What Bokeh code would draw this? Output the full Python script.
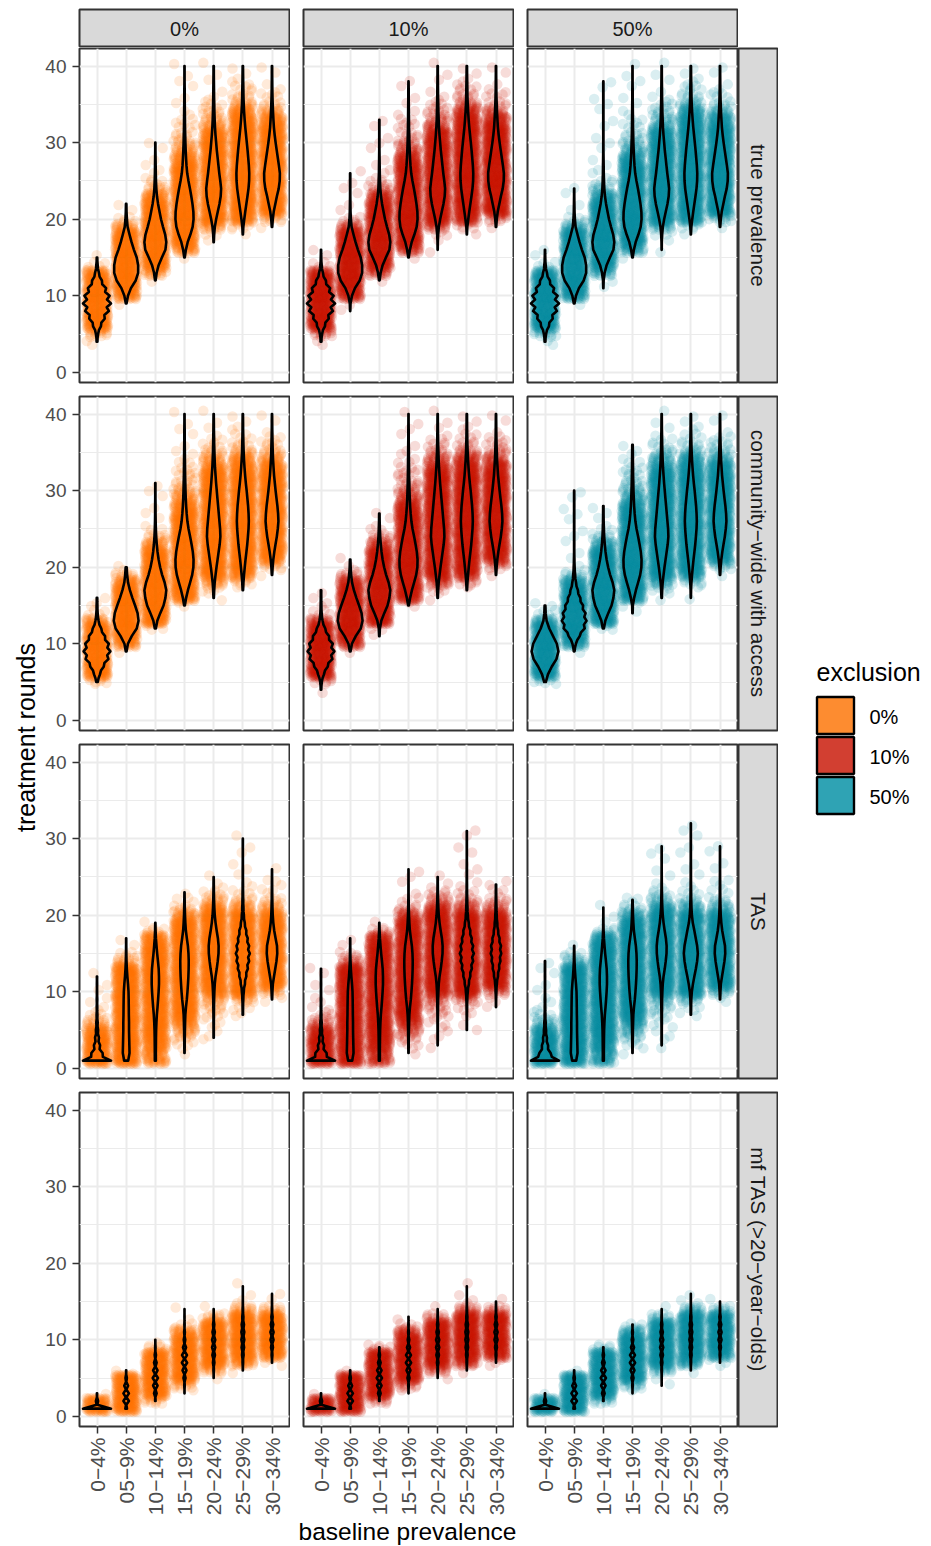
import math
from bokeh.embed import file_html
from bokeh.resources import INLINE
from bokeh.plotting import figure
from bokeh.layouts import row, column
from bokeh.models import Range1d, FixedTicker
from bokeh.core.properties import value

# ---------- chart content ----------
CATEGORIES = ["0−4%", "05−9%", "10−14%", "15−19%", "20−24%", "25−29%", "30−34%"]
EXCLUSIONS = ["0%", "10%", "50%"]
ROWS = ["true prevalence", "community−wide with access", "TAS", "mf TAS (>20−year−olds)"]
COLORS = ["#FF7300", "#CC1600", "#058CA0"]
KEY_COLORS = ["#FD8C30", "#D23F31", "#2FA3B4"]
Y_TICKS = [0, 10, 20, 30, 40]
Y_MINOR = [5, 15, 25, 35]

# Relative frequency of each whole number of rounds (estimated from violin outlines),
# per row and category: first round, then one value per round.
R1_START = [4, 9, 12, 15, 17, 18, 19]
R1_SHAPE = [
    [3, 8, 28, 55, 85, 100, 90, 65, 35, 14, 5, 2],
    [3, 15, 40, 80, 100, 100, 88, 65, 45, 28, 12, 6, 3, 2],
    [3, 12, 30, 60, 92, 100, 90, 70, 52, 38, 25, 15, 9, 6, 4, 3, 2, 1, 1],
    [3, 15, 35, 65, 90, 100, 98, 88, 75, 60, 44, 30, 22, 17, 13, 10, 8, 6, 5, 4, 3, 2, 2, 1, 1, 1],
    [2, 6, 14, 30, 50, 70, 85, 90, 80, 68, 58, 48, 38, 30, 22, 16, 12, 9, 7, 5, 4, 3, 2, 2],
    [2, 8, 22, 38, 55, 72, 88, 98, 100, 94, 84, 74, 62, 50, 38, 28, 20, 14, 10, 8, 6, 4, 3],
    [3, 10, 22, 42, 62, 85, 98, 100, 88, 74, 60, 46, 34, 24, 18, 13, 9, 6, 4, 3, 2, 2],
]
R2_START = [4, 9, 11, 14, 16, 16, 19]
R2_SHAPE = [
    [2, 6, 22, 50, 85, 100, 88, 60, 32, 12, 5, 3, 2, 2],
    [3, 14, 45, 85, 100, 92, 72, 50, 30, 15, 8, 4, 2],
    [2, 5, 18, 45, 75, 92, 100, 85, 62, 44, 30, 20, 13, 8, 5, 3, 2, 2, 1, 1, 1],
    [2, 4, 18, 38, 62, 85, 98, 100, 92, 78, 62, 45, 32, 24, 18, 14, 11, 9, 7, 6, 5, 4, 3, 2, 2, 1, 1],
    [3, 8, 15, 28, 42, 58, 74, 90, 100, 96, 86, 76, 66, 56, 46, 36, 28, 20, 15, 11, 8, 6, 4, 3, 2],
    [2, 4, 10, 20, 32, 45, 60, 74, 85, 95, 100, 96, 88, 76, 64, 50, 38, 28, 20, 14, 10, 7, 5, 4, 3],
    [3, 10, 20, 36, 55, 75, 90, 100, 95, 84, 70, 56, 44, 32, 24, 17, 12, 9, 6, 4, 3, 2],
]
R3_START = [1, 1, 1, 2, 3, 5, 8]
R3_SHAPE = [
    [100, 40, 22, 14, 8, 5, 3, 2, 2, 1, 1, 1, 1, 1],
    [60, 100, 95, 90, 85, 85, 80, 78, 75, 70, 55, 35, 20, 10, 6, 3, 2],
    [14, 14, 16, 18, 22, 30, 42, 60, 76, 90, 100, 100, 92, 72, 50, 32, 16, 7, 3, 2, 1],
    [3, 5, 7, 10, 14, 20, 35, 55, 70, 82, 92, 98, 100, 94, 80, 55, 32, 20, 12, 7, 4, 2, 2, 1, 1],
    [2, 3, 3, 4, 5, 7, 9, 14, 22, 38, 62, 82, 98, 100, 85, 60, 38, 22, 13, 8, 5, 3, 2, 1, 1, 1, 1],
    [2, 2, 3, 4, 7, 14, 30, 50, 72, 90, 100, 90, 70, 50, 28, 15, 9, 6, 4, 3, 2, 2, 1, 1, 1, 1, 1, 1],
    [2, 3, 8, 16, 38, 62, 85, 100, 95, 68, 42, 25, 14, 9, 6, 4, 3, 2, 1, 1, 1, 1],
]
R4_START = [1, 1, 2, 3, 4, 6, 7]
R4_SHAPE = [
    [100, 8, 1],
    [30, 100, 100, 70, 25, 4],
    [10, 50, 85, 100, 85, 50, 25, 8, 2],
    [3, 10, 40, 75, 100, 95, 60, 30, 15, 6, 3, 1],
    [2, 3, 15, 45, 80, 100, 100, 75, 40, 12, 3],
    [4, 20, 55, 85, 100, 100, 80, 40, 15, 5, 2, 1],
    [6, 25, 60, 95, 100, 80, 40, 12, 4, 1],
]
STARTS = [R1_START, R2_START, R3_START, R4_START]
SHAPES = [R1_SHAPE, R2_SHAPE, R3_SHAPE, R4_SHAPE]

# Widest half-width of each violin, in category widths.
PEAKS = [
    [0.48, 0.41, 0.375, 0.31, 0.255, 0.22, 0.27],
    [0.46, 0.425, 0.375, 0.31, 0.23, 0.205, 0.22],
    [0.48, 0.115, 0.125, 0.145, 0.17, 0.24, 0.18],
    [0.48, 0.095, 0.09, 0.09, 0.055, 0.05, 0.055],
]
# How many dots one unit of peak * shape stands for, per row.
DOTS_PER_UNIT = [4, 4, 12, 14]
DOT_CAP = 44

# Lowest and highest rounds per row / column / category.
ENDS = [
    [[(4, 15), (9, 22), (12, 30), (15, 40), (17, 40), (18, 40), (19, 40)],
     [(4, 16), (8, 26), (12, 33), (15, 38), (16, 40), (18, 40), (19, 40)],
     [(4, 16), (9, 24), (11, 38), (15, 40), (16, 40), (18, 40), (19, 40)]],
    [[(5, 16), (9, 20), (12, 31), (15, 40), (16, 40), (17, 40), (19, 40)],
     [(4, 17), (9, 21), (11, 27), (15, 40), (16, 40), (17, 40), (19, 40)],
     [(5, 15), (9, 30), (12, 28), (14, 36), (16, 40), (16, 40), (19, 40)]],
    [[(1, 12), (1, 17), (1, 19), (2, 23), (4, 25), (7, 30), (9, 26)],
     [(1, 13), (1, 17), (1, 19), (2, 26), (3, 25), (5, 31), (8, 24)],
     [(1, 14), (1, 16), (1, 21), (2, 22), (3, 29), (7, 32), (9, 29)]],
    [[(1, 3), (1, 6), (2, 10), (3, 14), (5, 14), (6, 17), (7, 16)],
     [(1, 3), (1, 6), (2, 9), (3, 13), (5, 14), (6, 17), (7, 15)],
     [(1, 3), (1, 6), (2, 9), (3, 12), (4, 14), (6, 16), (7, 15)]],
]
# Outline waist between whole rounds, where the picture shows a wavy violin.
WAISTS = {
    (0, 0, 0): 0.75, (0, 1, 0): 0.75, (0, 2, 0): 0.75,
    (1, 0, 0): 0.82, (1, 1, 0): 0.82, (1, 2, 1): 0.85,
    (2, 0, 0): 0.6, (2, 1, 0): 0.6, (2, 2, 0): 0.7,
    (2, 0, 5): 0.8, (2, 1, 5): 0.8, (2, 1, 6): 0.8,
}
ROW4_WAIST = [0.05, 0.1, 0.1, 0.1, 0.3, 0.5, 0.3]

# ---------- layout constants ----------
FONT = value("Liberation Sans")
Y_RANGE = (-1.33, 42.3)
FRAME_W, FRAME_H = 210, 334
LEFT = [41, 13, 13]
BOTTOM_ROW_GAP = 92


def shape_at(r, c, level):
    i = level - STARTS[r][c]
    s = SHAPES[r][c]
    return s[i] if 0 <= i < len(s) else 1


def frac(v):
    return v - math.floor(v)


def cloud(r, k, c):
    """Dots for one cloud. The number per round comes from the estimated frequencies
    (thin tails count for less, as the picture shows them sparser than the outline suggests);
    the individual dots cannot be read, so they are spread evenly over the jitter box."""
    xs, ys = [], []
    lo, hi = ENDS[r][k][c]
    for lev in range(lo, hi + 1):
        s = shape_at(r, c, lev)
        n = min(DOT_CAP, max(1, round(s * PEAKS[r][c] * DOTS_PER_UNIT[r] * min(1.8, s / 11))))
        for i in range(n):
            xs.append(c + 1 + 0.38 * (2 * frac((i + 1) * 0.754878 + 0.381966 * lev + 0.29 * k) - 1))
            ys.append(lev + 0.45 * (2 * frac((i + 1) * 0.569840 + 0.618034 * lev + 0.17 * c) - 1))
    return xs, ys


def outline(r, k, c):
    lo, hi = ENDS[r][k][c]
    waist = ROW4_WAIST[c] if r == 3 else WAISTS.get((r, k, c), 1)
    top = max(shape_at(r, c, lev) for lev in range(lo, hi + 1))
    ys, ws = [], []
    for lev in range(lo, hi + 1):
        w = PEAKS[r][c] * shape_at(r, c, lev) / top
        ys.append(lev)
        ws.append(w)
        if waist < 1 and lev < hi:
            nxt = PEAKS[r][c] * shape_at(r, c, lev + 1) / top
            ys.append(lev + 0.5)
            ws.append(waist * (w + nxt) / 2)
    xs = [c + 1 - w for w in ws] + [c + 1 + w for w in reversed(ws)]
    return xs, ys + ys[::-1]


def panel(r, k):
    bottom = r == 3
    left = k == 0
    gap = BOTTOM_ROW_GAP if bottom else 13
    p = figure(width=LEFT[k] + FRAME_W + 1, height=1 + FRAME_H + gap,
               x_range=Range1d(0.4, 7.6), y_range=Range1d(*Y_RANGE),
               toolbar_location=None, output_backend="svg",
               min_border_left=LEFT[k], min_border_right=1, min_border_top=1,
               min_border_bottom=gap)
    p.background_fill_color = "white"
    p.border_fill_color = None
    p.outline_line_color = "#333333"
    p.outline_line_width = 2
    for ax, show, ticks in ((p.xaxis[0], bottom, list(range(1, 8))), (p.yaxis[0], left, Y_TICKS)):
        ax.visible = show
        ax.ticker = FixedTicker(ticks=ticks)
        ax.axis_line_color = None
        ax.major_tick_in = 0
        ax.major_tick_out = 7
        ax.major_tick_line_color = "#333333"
        ax.major_tick_line_width = 1.5
        ax.minor_tick_line_color = None
        ax.major_label_text_font = "Liberation Sans"
        ax.major_label_text_font_size = "19px"
        ax.major_label_text_color = "#4D4D4D"
        ax.major_label_standoff = 6
    p.xaxis[0].major_label_overrides = {i + 1: s for i, s in enumerate(CATEGORIES)}
    p.xaxis[0].major_label_orientation = math.pi / 2
    p.xaxis[0].major_label_text_font_size = "21px"
    p.xaxis[0].major_label_standoff = 4
    p.xgrid[0].ticker = FixedTicker(ticks=list(range(1, 8)))
    p.ygrid[0].ticker = FixedTicker(ticks=Y_TICKS, minor_ticks=Y_MINOR)
    p.xgrid.grid_line_color = "#EBEBEB"
    p.xgrid.grid_line_width = 2
    p.ygrid.grid_line_color = "#EBEBEB"
    p.ygrid.grid_line_width = 2
    p.ygrid.minor_grid_line_color = "#EBEBEB"
    p.ygrid.minor_grid_line_width = 1.1

    xs, ys = [], []
    ox, oy = [], []
    for c in range(len(CATEGORIES)):
        a, b = cloud(r, k, c)
        xs += a
        ys += b
        a, b = outline(r, k, c)
        ox.append(a)
        oy.append(b)
    p.scatter(x=xs, y=ys, size=10.5, marker="circle", fill_color=COLORS[k], fill_alpha=0.15, line_color=None)
    p.patches(xs=ox, ys=oy, fill_alpha=0, line_color="black", line_width=2.6, line_join="round")
    return p


def strip(text, w, h, angle, left, right, top, bottom, size="20px"):
    p = figure(width=w, height=h, x_range=Range1d(0, 1), y_range=Range1d(0, 1),
               x_axis_type=None, y_axis_type=None, toolbar_location=None, output_backend="svg",
               min_border_left=left, min_border_right=right, min_border_top=top, min_border_bottom=bottom)
    p.grid.visible = False
    p.background_fill_color = "#D9D9D9"
    p.border_fill_color = None
    p.outline_line_color = "#333333"
    p.outline_line_width = 2
    p.text(x=[0.5], y=[0.5], text=[text], angle=angle, text_font=FONT, text_font_size=size,
           text_color="#1A1A1A", text_align="center", text_baseline="middle")
    return p


def blank(w, h, xr, yr):
    p = figure(width=w, height=h, x_range=Range1d(*xr), y_range=Range1d(*yr),
               x_axis_type=None, y_axis_type=None, toolbar_location=None, output_backend="svg",
               min_border_left=0, min_border_right=0, min_border_top=0, min_border_bottom=0)
    p.grid.visible = False
    p.outline_line_color = None
    p.background_fill_color = None
    p.border_fill_color = None
    return p


rows = [row(*[strip(EXCLUSIONS[k], LEFT[k] + FRAME_W + 1, 39, 0, LEFT[k], 1, 1, 0) for k in range(3)],
            spacing=0)]
for r in range(4):
    gap = BOTTOM_ROW_GAP if r == 3 else 13
    rows.append(row(*[panel(r, k) for k in range(3)],
                    strip(ROWS[r], 40, 1 + FRAME_H + gap, -math.pi / 2, 0, 1, 1, gap, "20.7px"),
                    spacing=0))

xlab = blank(740, 28, (0, 740), (28, 0))
xlab.text(x=[369], y=[13], text=["baseline prevalence"], text_font=FONT, text_font_size="24.5px",
          text_color="black", text_align="center", text_baseline="middle")
rows.append(xlab)
body = column(*rows, spacing=0)

ylab = blank(30, 1530, (0, 30), (1530, 0))
ylab.text(x=[17], y=[729], text=["treatment rounds"], angle=math.pi / 2, text_font=FONT,
          text_font_size="25px", text_color="black", text_align="center", text_baseline="middle")

leg = blank(147, 830, (0, 147), (830, 0))
leg.text(x=[38], y=[663], text=["exclusion"], text_font=FONT, text_font_size="25px",
         text_color="black", text_align="left", text_baseline="middle")
leg.rect(x=[57, 57, 57], y=[707, 747, 787], width=[37, 37, 37], height=[37, 37, 37],
         fill_color=KEY_COLORS, line_color="black", line_width=2.4)
leg.text(x=[91, 91, 91], y=[708, 748, 788], text=EXCLUSIONS, text_font=FONT, text_font_size="20px",
         text_color="black", text_align="left", text_baseline="middle")

page = row(ylab, body, leg, spacing=0, margin=(8, 0, 0, 8))
open("out.html", "w").write(file_html(page, INLINE))
